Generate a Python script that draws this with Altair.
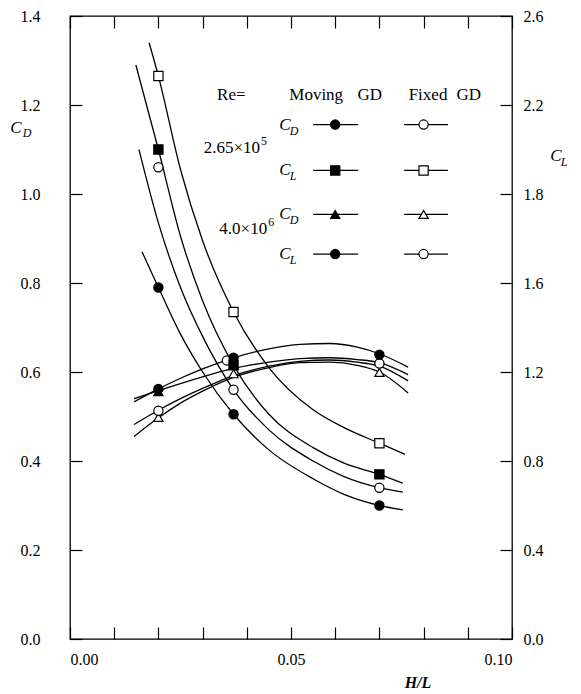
import altair as alt
import pandas as pd

W, H = 442, 623
FONT = "Liberation Serif"

# ---------------- measured points ----------------
hl_points = [0.02, 0.037, 0.07]
hl_cd_fixed_re1 = [0.02, 0.0355, 0.07]

# C_D (left axis)
cd_moving_re1 = [0.562, 0.632, 0.639]
cd_fixed_re1 = [0.513, 0.626, 0.619]
cd_moving_re2 = [0.556, 0.615, 0.628]
cd_fixed_re2 = [0.498, 0.596, 0.599]
# C_L (right axis)
cl_moving_re1 = [2.20, 1.23, 0.74]
cl_fixed_re1 = [2.53, 1.47, 0.88]
cl_moving_re2 = [1.58, 1.01, 0.60]
cl_fixed_re2 = [2.12, 1.12, 0.68]

# ---------------- fitted curves ----------------
fit_hl_cd = [0.0145, 0.02, 0.025, 0.03, 0.037, 0.045, 0.052, 0.0588, 0.065, 0.07, 0.0765]
fit_cd_moving_re1 = [0.533, 0.562, 0.586, 0.607, 0.632, 0.652, 0.662, 0.664, 0.656, 0.641, 0.611]
fit_cd_moving_re2 = [0.540, 0.558, 0.574, 0.589, 0.608, 0.622, 0.630, 0.632, 0.628, 0.621, 0.594]
fit_cd_fixed_re1 = [0.482, 0.514, 0.540, 0.563, 0.592, 0.613, 0.624, 0.627, 0.622, 0.613, 0.580]
fit_cd_fixed_re2 = [0.455, 0.497, 0.530, 0.557, 0.588, 0.610, 0.621, 0.622, 0.615, 0.600, 0.553]

fit_hl_cl_fixed_re1 = [0.0179, 0.02, 0.025, 0.03, 0.037, 0.045, 0.055, 0.062, 0.07, 0.0758]
fit_cl_fixed_re1 = [2.68, 2.53, 2.11, 1.79, 1.47, 1.22, 1.03, 0.95, 0.88, 0.83]
fit_hl_cl_moving_re1 = [0.0149, 0.02, 0.025, 0.03, 0.037, 0.045, 0.055, 0.062, 0.07, 0.0753]
fit_cl_moving_re1 = [2.58, 2.20, 1.81, 1.52, 1.23, 1.01, 0.86, 0.79, 0.74, 0.70]
fit_hl_cl_fixed_re2 = [0.0156, 0.02, 0.025, 0.03, 0.037, 0.045, 0.055, 0.062, 0.07, 0.0753]
fit_cl_fixed_re2 = [2.20, 1.87, 1.58, 1.36, 1.12, 0.94, 0.80, 0.73, 0.68, 0.66]
fit_hl_cl_moving_re2 = [0.0163, 0.02, 0.025, 0.03, 0.037, 0.045, 0.055, 0.062, 0.07, 0.0753]
fit_cl_moving_re2 = [1.74, 1.58, 1.37, 1.20, 1.01, 0.85, 0.72, 0.65, 0.60, 0.58]

# ---------------- axes ticks / labels ----------------
x_ticks = [0.0, 0.01, 0.02, 0.03, 0.04, 0.05, 0.06, 0.07, 0.08, 0.09, 0.1]
x_labels = [0.0, 0.05, 0.1]
y_ticks = [0.0, 0.2, 0.4, 0.6, 0.8, 1.0, 1.2, 1.4]

# ---------------- legend content ----------------
legend_head_text = ["Re=", "Moving", "GD", "Fixed", "GD"]
legend_head_x = [0.0365, 0.0557, 0.0678, 0.0810, 0.0902]
legend_head_y = 1.223
re_text = ["2.65\u00d710", "4.0\u00d710"]
re_exp = ["5", "6"]
re_x = [0.0430, 0.0446]
re_y = [1.104, 0.921]
legend_row_y = [1.156, 1.053, 0.954, 0.865]
legend_row_sub = ["D", "L", "D", "L"]
legend_row_shape = ["circle", "square", "triangle-up", "circle"]
legend_label_x = 0.0486
legend_moving_x = 0.0600
legend_fixed_x = 0.0800
legend_moving_span = [0.0550, 0.0652]
legend_fixed_span = [0.0756, 0.0855]

# ---------------- tables ----------------
def pts(hl, vals, coef, shape, fill):
    return [dict(hl=h, v=v, coef=coef, shape=shape, fill=fill) for h, v in zip(hl, vals)]

points = pd.DataFrame(
    pts(hl_points, cd_moving_re2, "CD", "triangle-up", "black")
    + pts(hl_points, cd_fixed_re2, "CD", "triangle-up", "white")
    + pts(hl_cd_fixed_re1, cd_fixed_re1, "CD", "circle", "white")
    + pts(hl_points, cd_moving_re1, "CD", "circle", "black")
    + pts(hl_points, cl_fixed_re2, "CL", "circle", "white")
    + pts(hl_points, cl_moving_re2, "CL", "circle", "black")
    + pts(hl_points, cl_fixed_re1, "CL", "square", "white")
    + pts(hl_points, cl_moving_re1, "CL", "square", "black")
)

def crv(name, hl, vals, coef):
    return [dict(curve=name, hl=h, v=v, coef=coef, i=i) for i, (h, v) in enumerate(zip(hl, vals))]

curves = pd.DataFrame(
    crv("cd_m1", fit_hl_cd, fit_cd_moving_re1, "CD")
    + crv("cd_m2", fit_hl_cd, fit_cd_moving_re2, "CD")
    + crv("cd_f1", fit_hl_cd, fit_cd_fixed_re1, "CD")
    + crv("cd_f2", fit_hl_cd, fit_cd_fixed_re2, "CD")
    + crv("cl_f1", fit_hl_cl_fixed_re1, fit_cl_fixed_re1, "CL")
    + crv("cl_m1", fit_hl_cl_moving_re1, fit_cl_moving_re1, "CL")
    + crv("cl_f2", fit_hl_cl_fixed_re2, fit_cl_fixed_re2, "CL")
    + crv("cl_m2", fit_hl_cl_moving_re2, fit_cl_moving_re2, "CL")
)

legend_lines = pd.DataFrame(
    [dict(x=legend_moving_span[0], x2=legend_moving_span[1], y=y) for y in legend_row_y]
    + [dict(x=legend_fixed_span[0], x2=legend_fixed_span[1], y=y) for y in legend_row_y]
)
legend_marks = pd.DataFrame(
    [dict(x=legend_moving_x, y=y, shape=s, fill="black") for y, s in zip(legend_row_y, legend_row_shape)]
    + [dict(x=legend_fixed_x, y=y, shape=s, fill="white") for y, s in zip(legend_row_y, legend_row_shape)]
)
head_df = pd.DataFrame(dict(x=legend_head_x, y=[legend_head_y] * len(legend_head_x), t=legend_head_text))
re_df = pd.DataFrame(dict(x=re_x, y=re_y, t=re_text, e=re_exp))
row_df = pd.DataFrame(dict(x=[legend_label_x] * 4, y=legend_row_y, s=legend_row_sub))

# ---------------- scales & axes ----------------
xs = alt.Scale(domain=[0, 0.1], nice=False, zero=False)
ys = alt.Scale(domain=[0, 1.4], nice=False, zero=False)
calc = "datum.coef == 'CL' ? datum.v / 2 : datum.v"

common = dict(title=None, grid=False, domain=False, labelFont=FONT, labelFontSize=16,
              labelColor="black", tickColor="black", tickWidth=1.2)
ax_x_labels = alt.Axis(orient="bottom", values=x_labels, format=".2f", ticks=False, tickSize=0,
                       labelPadding=12, **common)
ax_x_ticks_bottom = alt.Axis(orient="top", offset=-H, values=x_ticks, labels=False, tickSize=12, **common)
ax_x_ticks_top = alt.Axis(orient="bottom", offset=-H, values=x_ticks, labels=False, tickSize=12, **common)
ax_y_labels = alt.Axis(orient="left", values=y_ticks, format=".1f", ticks=False, tickSize=0,
                       labelPadding=30, **common)
ax_y_ticks_left = alt.Axis(orient="right", offset=-W, values=y_ticks, labels=False, tickSize=12, **common)
label_expr = ("datum.value > 1.39 ? '2.6' : datum.value > 1.19 ? '2.2' : "
              "datum.value > 0.99 ? '1.8' : format(datum.value * 2, '.1f')")
ax_y_right = alt.Axis(orient="right", values=y_ticks, labelExpr=label_expr, ticks=False, tickSize=0,
                      labelPadding=11, **common)
ax_y_ticks_right = alt.Axis(orient="left", offset=-W, values=y_ticks, labels=False, tickSize=12, **common)

# ---------------- layers ----------------
curves_layer = alt.Chart(curves).transform_calculate(yp=calc).mark_line(
    color="black", strokeWidth=1.3, interpolate="monotone"
).encode(
    x=alt.X("hl:Q", scale=xs, axis=ax_x_labels),
    y=alt.Y("yp:Q", scale=ys, axis=ax_y_labels),
    detail="curve:N",
    order="i:Q",
)

points_layer = alt.Chart(points).transform_calculate(yp=calc).mark_point(
    filled=True, stroke="black", strokeWidth=1.2, size=85, opacity=1
).encode(
    x=alt.X("hl:Q", scale=xs, axis=ax_x_ticks_bottom),
    y=alt.Y("yp:Q", scale=ys, axis=ax_y_ticks_left),
    shape=alt.Shape("shape:N", scale=None),
    fill=alt.Fill("fill:N", scale=None),
)

lines_layer = alt.Chart(legend_lines).mark_rule(color="black", strokeWidth=1.2).encode(
    x=alt.X("x:Q", scale=xs, axis=ax_x_ticks_top),
    x2="x2:Q",
    y=alt.Y("y:Q", scale=ys, axis=ax_y_right),
)

lmarks_layer = alt.Chart(legend_marks).mark_point(
    filled=True, stroke="black", strokeWidth=1.2, size=85, opacity=1
).encode(
    x=alt.X("x:Q", scale=xs, axis=None),
    y=alt.Y("y:Q", scale=ys, axis=ax_y_ticks_right),
    shape=alt.Shape("shape:N", scale=None),
    fill=alt.Fill("fill:N", scale=None),
)

head_layer = alt.Chart(head_df).mark_text(font=FONT, fontSize=17, color="black", align="center").encode(
    x=alt.X("x:Q", scale=xs, axis=None), y=alt.Y("y:Q", scale=ys, axis=None), text="t:N"
)
re_layer = alt.Chart(re_df).mark_text(font=FONT, fontSize=17, color="black", align="right").encode(
    x=alt.X("x:Q", scale=xs, axis=None), y=alt.Y("y:Q", scale=ys, axis=None), text="t:N"
)
re_exp_layer = alt.Chart(re_df).mark_text(font=FONT, fontSize=12, color="black", align="left",
                                          dx=1, dy=-7).encode(
    x=alt.X("x:Q", scale=xs, axis=None), y=alt.Y("y:Q", scale=ys, axis=None), text="e:N"
)
row_c_layer = alt.Chart(row_df).mark_text(font=FONT, fontSize=17, fontStyle="italic", color="black",
                                          align="center", text="C").encode(
    x=alt.X("x:Q", scale=xs, axis=None), y=alt.Y("y:Q", scale=ys, axis=None)
)
row_sub_layer = alt.Chart(row_df).mark_text(font=FONT, fontSize=12, fontStyle="italic", color="black",
                                            align="left", dx=5, dy=6).encode(
    x=alt.X("x:Q", scale=xs, axis=None), y=alt.Y("y:Q", scale=ys, axis=None), text="s:N"
)

one = pd.DataFrame({"k": [0]})
cd_c = alt.Chart(one).mark_text(font=FONT, fontSize=17, fontStyle="italic", text="C", color="black").encode(
    x=alt.value(-54), y=alt.value(112))
cd_s = alt.Chart(one).mark_text(font=FONT, fontSize=12, fontStyle="italic", text="D", color="black").encode(
    x=alt.value(-43), y=alt.value(117))
cl_c = alt.Chart(one).mark_text(font=FONT, fontSize=17, fontStyle="italic", text="C", color="black").encode(
    x=alt.value(486), y=alt.value(140))
cl_s = alt.Chart(one).mark_text(font=FONT, fontSize=12, fontStyle="italic", text="L", color="black").encode(
    x=alt.value(494), y=alt.value(146))
hl_t = alt.Chart(one).mark_text(font=FONT, fontSize=16, fontStyle="italic", fontWeight="bold",
                                text="H/L", color="black").encode(
    x=alt.value(348), y=alt.value(H + 44))

chart = alt.layer(
    curves_layer, points_layer, lines_layer, lmarks_layer,
    head_layer, re_layer, re_exp_layer, row_c_layer, row_sub_layer,
    cd_c, cd_s, cl_c, cl_s, hl_t,
).resolve_axis(x="independent", y="independent").properties(
    width=W, height=H,
    autosize=alt.AutoSizeParams(type="none"),
    padding={"left": 62, "top": 8, "right": 60, "bottom": 55},
).configure_view(
    stroke="black", strokeWidth=1.3
)

chart.save("out.html", embed_options={"renderer": "svg", "actions": False})
